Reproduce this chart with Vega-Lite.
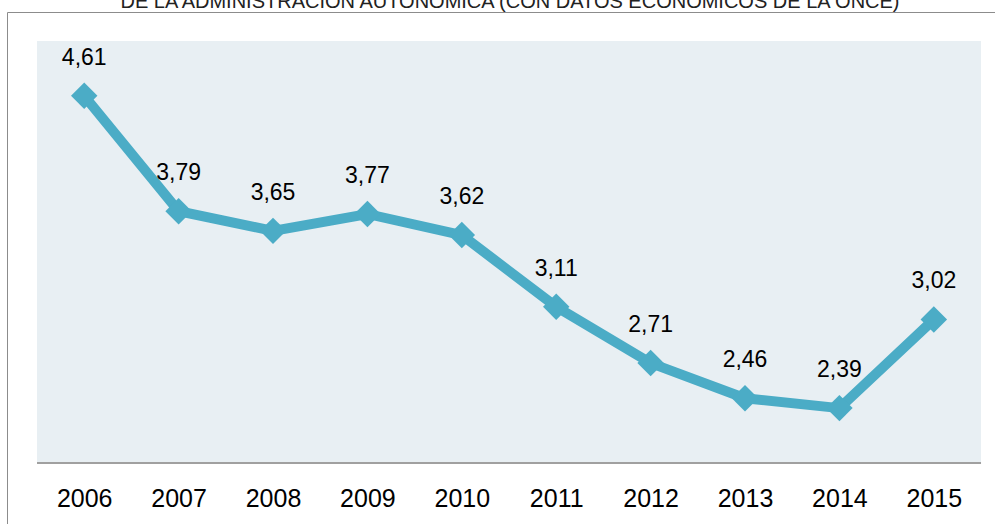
{
  "$schema": "https://vega.github.io/schema/vega-lite/v6.json",
  "width": 998,
  "height": 522,
  "autosize": {"type": "none"},
  "padding": {"left": 7, "top": 12, "right": 0, "bottom": 0},
  "background": "white",
  "title": {
    "text": "DE LA ADMINISTRACIÓN AUTONÓMICA (CON DATOS ECONÓMICOS DE LA ONCE)",
    "anchor": "middle",
    "orient": "top",
    "offset": -20,
    "baseline": "bottom",
    "font": "Liberation Sans",
    "fontSize": 20,
    "fontWeight": "normal",
    "color": "#222222",
    "dx": 4
  },
  "config": {
    "view": {"stroke": "#8c8c8c", "strokeWidth": 1},
    "locale": {"number": {"decimal": ",", "thousands": ".", "grouping": [3], "currency": ["", " €"]}}
  },
  "datasets": {
    "serie": [
      {"year": 2006, "value": 4.61},
      {"year": 2007, "value": 3.79},
      {"year": 2008, "value": 3.65},
      {"year": 2009, "value": 3.77},
      {"year": 2010, "value": 3.62},
      {"year": 2011, "value": 3.11},
      {"year": 2012, "value": 2.71},
      {"year": 2013, "value": 2.46},
      {"year": 2014, "value": 2.39},
      {"year": 2015, "value": 3.02}
    ],
    "plotarea": [{"x0": 2005.5, "x1": 2015.5, "y0": 2, "y1": 5}]
  },
  "layer": [
    {
      "data": {"name": "plotarea"},
      "mark": {"type": "rect", "fill": "#E8EFF3"},
      "encoding": {
        "x": {"field": "x0", "type": "quantitative", "scale": {"domain": [2005.182, 2015.754], "nice": false, "zero": false},
          "axis": {"values": [2006, 2007, 2008, 2009, 2010, 2011, 2012, 2013, 2014, 2015], "format": "d", "title": null, "domain": false, "ticks": false, "grid": false, "offset": -71, "labelPadding": 23, "labelFont": "Liberation Sans", "labelFontSize": 25, "labelColor": "#000000", "labelBaseline": "top"}},
        "x2": {"field": "x1"},
        "y": {"field": "y0", "type": "quantitative", "scale": {"domain": [1.495, 5.206], "nice": false, "zero": false}, "axis": null},
        "y2": {"field": "y1"}
      }
    },
    {
      "data": {"name": "plotarea"},
      "mark": {"type": "rule", "stroke": "#A0A0A0", "strokeWidth": 2},
      "encoding": {
        "x": {"field": "x0", "type": "quantitative"},
        "x2": {"field": "x1"},
        "y": {"field": "y0", "type": "quantitative"}
      }
    },
    {
      "data": {"name": "serie"},
      "mark": {"type": "line", "stroke": "#4BACC6", "strokeWidth": 10, "strokeJoin": "miter"},
      "encoding": {
        "x": {"field": "year", "type": "quantitative"},
        "y": {"field": "value", "type": "quantitative"}
      }
    },
    {
      "data": {"name": "serie"},
      "mark": {"type": "point", "shape": "diamond", "filled": true, "size": 700, "color": "#4BACC6", "opacity": 1},
      "encoding": {
        "x": {"field": "year", "type": "quantitative"},
        "y": {"field": "value", "type": "quantitative"}
      }
    },
    {
      "data": {"name": "serie"},
      "mark": {"type": "text", "font": "Liberation Sans", "fontSize": 23, "color": "#000000", "baseline": "alphabetic", "dy": -31},
      "encoding": {
        "x": {"field": "year", "type": "quantitative"},
        "y": {"field": "value", "type": "quantitative"},
        "text": {"field": "value", "type": "quantitative", "format": ".2f"}
      }
    }
  ]
}
